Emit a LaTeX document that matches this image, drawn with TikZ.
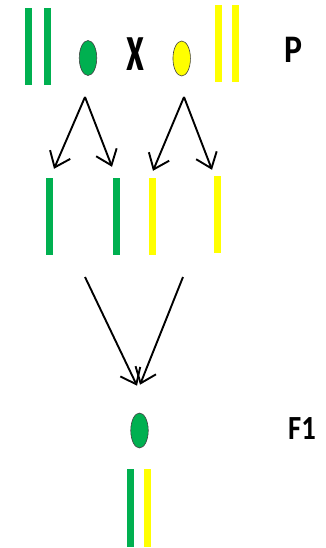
\documentclass[tikz,border=0pt]{standalone}
\usepackage{fontspec}
\setmainfont{Carlito}
\usetikzlibrary{arrows.meta,shapes.geometric}
\definecolor{chromgreen}{RGB}{0,176,80}
\definecolor{chromyellow}{RGB}{255,255,0}
\begin{document}
\begin{tikzpicture}[x=1pt,y=-1pt,
  chrom/.style={rectangle,inner sep=0pt,minimum width=7pt,minimum height=77pt,draw=none},
  gbar/.style={chrom,fill=chromgreen},
  ybar/.style={chrom,fill=chromyellow},
  gamete/.style={ellipse,draw=black!75,line width=0.6pt,inner sep=0pt,minimum width=17.5pt,minimum height=35pt},
  lbl/.style={inner sep=0pt,font=\bfseries\fontsize{26}{26}\selectfont},
  arr/.style={line width=1.9pt,-{Straight Barb[length=14pt,width=22pt,line width=1.9pt]}}
]
\useasboundingbox (0,0) rectangle (326,548);

% parents
\node[gbar] (pg1) at (28.5,47) {};
\node[gbar] (pg2) at (47.5,47) {};
\node[ybar] (py1) at (218,43.5) {};
\node[ybar] (py2) at (235.5,43.5) {};
\node[gamete,fill=chromgreen] (eg) at (88,58) {};
\node[lbl] (cross) at (135.5,54) {\scalebox{1.5}[2.6]{x}};
\node[gamete,fill=chromyellow] (ey) at (181.7,58.5) {};
\node[lbl] (lp) at (293,49.5) {\scalebox{1.3}[1.5]{P}};

% gametes
\node[gbar] (m1) at (49.5,216.5) {};
\node[gbar] (m2) at (116.5,216.5) {};
\node[ybar] (m3) at (152.5,216.5) {};
\node[ybar] (m4) at (217,214.5) {};

\coordinate (sg) at (85,97);
\coordinate (sy) at (184,97);
\draw[arr] (sg) -- ([xshift=4.5pt,yshift=9pt]m1.north);
\draw[arr] (sg) -- ([xshift=-4.5pt,yshift=11pt]m2.north);
\draw[arr] (sy) -- ([xshift=0.5pt,yshift=7pt]m3.north);
\draw[arr] (sy) -- ([xshift=-5pt,yshift=6pt]m4.north);

% fusion
\node[gamete,fill=chromgreen] (ef) at (139.5,430.5) {};
\node[lbl] (lf) at (302,428.5) {\scalebox{1.1}[1.3]{F1}};
\node[gbar,minimum height=78pt] (fg) at (130.5,508) {};
\node[ybar,minimum height=78pt] (fy) at (147.5,508) {};

\coordinate (cl) at (85,277);
\coordinate (cr) at (183,277);
\draw[arr] (cl) -- ([xshift=-2.5pt,yshift=27pt]ef.north);
\draw[arr] (cr) -- ([xshift=0.5pt,yshift=28pt]ef.north);
\end{tikzpicture}
\end{document}
